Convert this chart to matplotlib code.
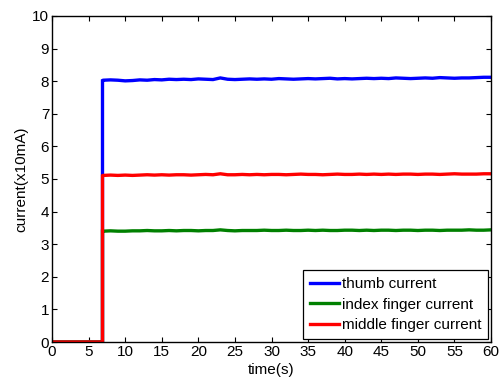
import numpy as np
import matplotlib
matplotlib.use("Agg")
import matplotlib.pyplot as plt

plt.rcParams['font.family'] = ['Liberation Sans', 'DejaVu Sans']

# Sample times (s): idle segment, step, then one-second samples
t_idle = [0.0, 6.9]
t_on = [6.9] + list(range(7, 61))

thumb = [8.02, 8.03, 8.04, 8.03, 8.01, 8.02, 8.04, 8.03, 8.05, 8.04, 8.06,
         8.05, 8.06, 8.05, 8.07, 8.06, 8.05, 8.10, 8.06, 8.05, 8.06, 8.07,
         8.06, 8.07, 8.06, 8.08, 8.07, 8.06, 8.07, 8.08, 8.07, 8.08, 8.09,
         8.07, 8.08, 8.07, 8.08, 8.09, 8.08, 8.09, 8.08, 8.10, 8.09, 8.08,
         8.09, 8.10, 8.09, 8.11, 8.10, 8.09, 8.10, 8.10, 8.11, 8.12, 8.12]
index = [3.40, 3.40, 3.41, 3.40, 3.40, 3.41, 3.41, 3.42, 3.41, 3.41, 3.42,
         3.41, 3.42, 3.42, 3.41, 3.42, 3.42, 3.44, 3.42, 3.41, 3.42, 3.42,
         3.42, 3.43, 3.42, 3.42, 3.43, 3.42, 3.42, 3.43, 3.42, 3.43, 3.42,
         3.42, 3.43, 3.43, 3.42, 3.43, 3.42, 3.43, 3.43, 3.42, 3.43, 3.43,
         3.42, 3.43, 3.43, 3.42, 3.43, 3.43, 3.43, 3.44, 3.43, 3.43, 3.44]
middle = [5.10, 5.11, 5.12, 5.11, 5.12, 5.11, 5.12, 5.13, 5.12, 5.13, 5.12,
          5.13, 5.13, 5.12, 5.13, 5.14, 5.13, 5.16, 5.13, 5.13, 5.14, 5.13,
          5.14, 5.13, 5.14, 5.14, 5.13, 5.14, 5.15, 5.14, 5.14, 5.13, 5.14,
          5.15, 5.14, 5.14, 5.15, 5.14, 5.15, 5.14, 5.15, 5.14, 5.15, 5.15,
          5.14, 5.15, 5.15, 5.14, 5.15, 5.16, 5.15, 5.15, 5.15, 5.16, 5.16]

labels = ['thumb current', 'index finger current', 'middle finger current']
colors = ['#0000ff', '#008000', '#ff0000']

fig = plt.figure(figsize=(5.03, 3.77), dpi=100)
ax = fig.add_axes([0.1034, 0.0928, 0.8728, 0.8648])

for vals, lab, col in zip([thumb, index, middle], labels, colors):
    x = t_idle + t_on
    y = [0.0, 0.0] + vals
    ax.plot(x, y, color=col, lw=2.4, label=lab, solid_joinstyle='miter')

ax.set_xlim(0, 60)
ax.set_ylim(0, 10)
ax.set_xticks(np.arange(0, 61, 5))
ax.set_yticks(np.arange(0, 11, 1))
ax.tick_params(direction='in', top=True, right=True, length=3.5,
               width=0.8, labelsize=11, pad=2)
for s in ax.spines.values():
    s.set_linewidth(1.0)
ax.set_xlabel('time(s)', fontsize=11, labelpad=3)
ax.set_ylabel('current(x10mA)', fontsize=11, labelpad=3)

leg = ax.legend(loc='lower right', fontsize=11, frameon=True, fancybox=False,
                edgecolor='black', framealpha=1, handlelength=1.9,
                handletextpad=0.2, borderpad=0.45, labelspacing=0.42,
                borderaxespad=0.2)
leg.get_frame().set_linewidth(0.9)

fig.savefig('out.png', dpi=100)
